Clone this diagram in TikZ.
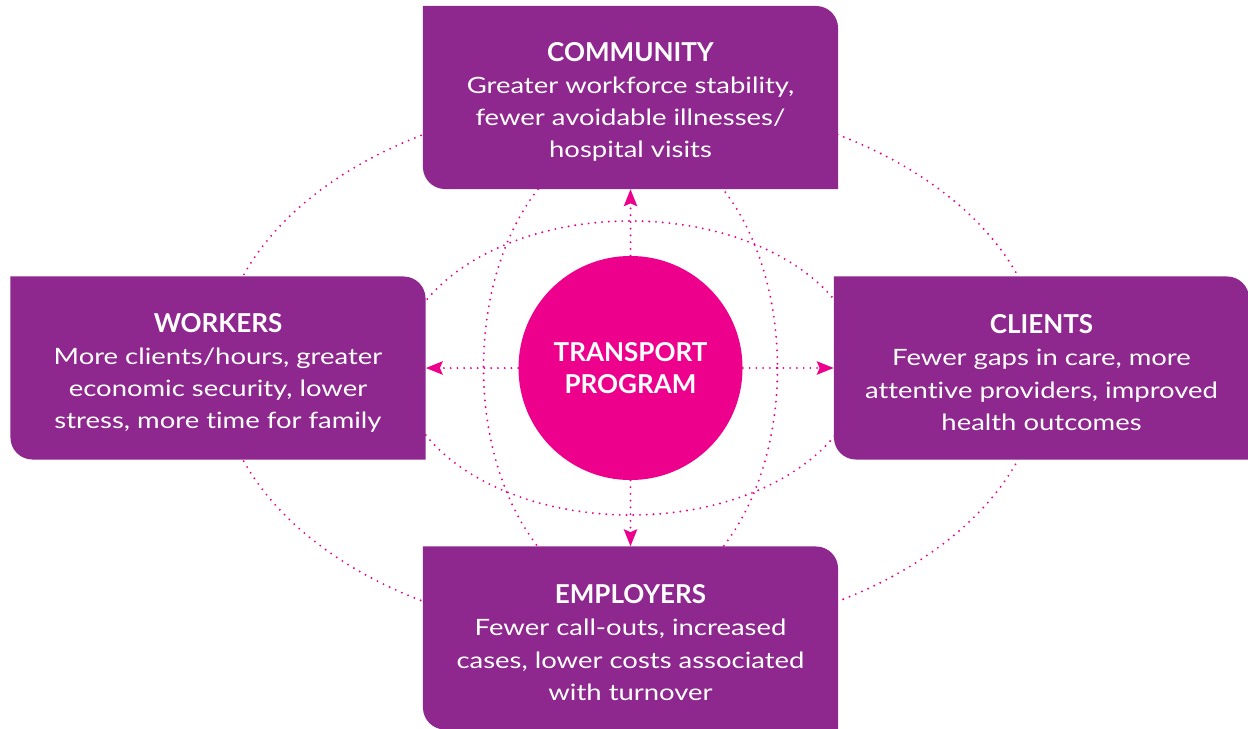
\documentclass[tikz,border=0pt]{standalone}
\usepackage{fontspec}
\setmainfont{Lato}
\newfontfamily\bodyface{Lato}[FakeStretch=1.22, Ligatures=NoCommon]
\usetikzlibrary{arrows.meta}

\definecolor{leafpurple}{HTML}{8E278E}
\definecolor{hubpink}{HTML}{EC008C}
\newcommand\headfont{\rmfamily\bfseries\fontsize{18.5}{22.8}\selectfont}
\newcommand\bodyfont{\bodyface\fontsize{16}{22.8}\selectfont}
\newcommand\headline[1]{{\headfont\rule{0pt}{20pt}#1}}

\tikzset{
  leafbox/.style={minimum width=10.375cm, minimum height=4.575cm, inner sep=0pt,
    text=white, align=center, font=\bodyfont,
    path picture={
      \fill[leafpurple] (path picture bounding box.north west)
        -- ([xshift=-5.5mm]path picture bounding box.north east)
        arc[start angle=90, end angle=0, radius=5.5mm]
        -- (path picture bounding box.south east)
        -- ([xshift=5.5mm]path picture bounding box.south west)
        arc[start angle=270, end angle=180, radius=5.5mm]
        -- cycle;}},
  hubdisc/.style={circle, fill=hubpink, minimum size=5.6cm, inner sep=0pt,
    text=white, align=center, font=\headfont},
  dots/.style={hubpink, line width=1.5pt, line cap=round, dash pattern=on 0pt off 4.8pt},
  flow/.style={dots, -{Stealth[length=12pt, width=9.5pt, inset=2pt]}}
}

\begin{document}
\begin{tikzpicture}[x=0.025cm, y=-0.025cm]
\useasboundingbox (0,0) rectangle (1248,729);
\clip (0,0) rectangle (1248,729);

% rings behind everything
\draw[dots] (630.5,368) ellipse [x radius=412, y radius=270];
\draw[dots] (630.5,368) ellipse [x radius=230, y radius=147];
\draw[dots] (630.5,368) ellipse [x radius=147, y radius=230];

\node[leafbox] (comm) at (630.5,97.5) {\headline{COMMUNITY}\\Greater workforce stability,\\fewer avoidable illnesses/\\hospital visits};
\node[leafbox] (work) at (218,368) {\headline{WORKERS}\\More clients/hours, greater\\economic security, lower\\stress, more time for family};
\node[leafbox] (clie) at (1041.5,368) {\headline{CLIENTS}\\Fewer gaps in care, more\\attentive providers, improved\\health outcomes};
\node[leafbox] (empl) at (630.5,638) {\headline{EMPLOYERS}\\Fewer call-outs, increased\\cases, lower costs associated\\with turnover};

\node[hubdisc] (hub) at (630.5,368) {TRANSPORT\\PROGRAM};

\draw[flow] (hub) -- (comm);
\draw[flow] (hub) -- (work);
\draw[flow] (hub) -- (clie);
\draw[flow] (hub) -- (empl);

\end{tikzpicture}
\end{document}
